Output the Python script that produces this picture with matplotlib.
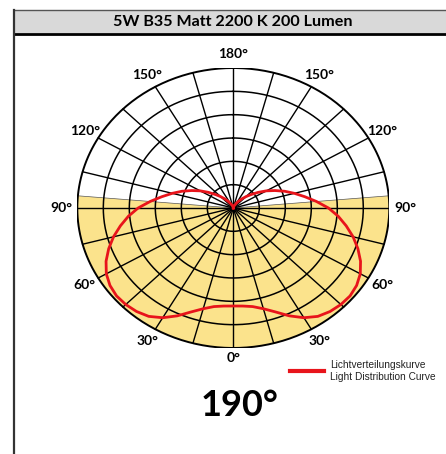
import numpy as np
import matplotlib
matplotlib.use("Agg")
import matplotlib.pyplot as plt

# Lichtverteilungskurve: angle from nadir (deg) -> relative intensity
curve_angles = [0, 5, 10, 15, 20, 25, 30, 35, 40, 45, 50, 55, 60, 65, 70, 75, 80, 85,
                90, 95, 100, 105, 110, 115, 120, 125, 130, 135, 140, 145, 150, 160, 170, 180]
curve_values = [0.70, 0.703, 0.715, 0.745, 0.79, 0.85, 0.905, 0.945, 0.965, 0.975, 0.977,
                0.965, 0.94, 0.90, 0.85, 0.795, 0.735, 0.675, 0.61, 0.535, 0.465, 0.405,
                0.35, 0.295, 0.245, 0.195, 0.15, 0.115, 0.085, 0.06, 0.04, 0.018, 0.005, 0.0]

beam_angle = 190
ring_count = 6
spoke_step = 15
angle_labels = [0, 30, 60, 90, 120, 150, 180]

title = "5W B35 Matt 2200 K 200 Lumen"
legend_de = "Lichtverteilungskurve"
legend_en = "Light Distribution Curve"

W, H = 446, 454
fig = plt.figure(figsize=(W / 100, H / 100), dpi=100)

# frame + title band (pixel coordinates)
frame = fig.add_axes([0, 0, 1, 1])
frame.set_xlim(0, W)
frame.set_ylim(H, 0)
frame.axis("off")
frame.fill_between([14, W + 5], 10, 33, color="#d9d9d9", lw=0)
frame.plot([14, W + 5], [10, 10], color="#555555", lw=1)
frame.plot([14, W + 5], [33.5, 33.5], color="black", lw=2)
frame.plot([14, 14], [10, H + 5], color="#333333", lw=1.6)
frame.text(233, 22, title, ha="center", va="center", fontsize=11.6,
           fontweight="bold", family="Lato")

# polar diagram, squashed to an ellipse
ax = fig.add_axes([77.3 / W, 1 - 348 / H, 312 / W, 280 / H])
ax.set_xlim(-1, 1)
ax.set_ylim(-1, 1)
ax.axis("off")


def xy(phi_deg, r):
    p = np.radians(phi_deg)
    return r * np.sin(p), -r * np.cos(p)


# beam area
half = beam_angle / 2
phi = np.linspace(-half, half, 200)
bx, by = xy(phi, 1.0)
ax.fill(np.r_[0, bx, 0], np.r_[0, by, 0], color="#fbe38c", lw=0, zorder=1)
for a in (-half, half):
    ex, ey = xy(a, 1.0)
    ax.plot([0, ex], [0, ey], color="#555555", lw=0.5, zorder=2)

# rings
full = np.linspace(-180, 180, 400)
for k in range(1, ring_count + 1):
    rx, ry = xy(full, k / ring_count)
    ax.plot(rx, ry, color="black", lw=1.1 if k < ring_count else 1.4, zorder=2)

# spokes
for a in np.arange(-180, 180, spoke_step):
    ex, ey = xy(a, 1.0)
    ax.plot([0, ex], [0, ey], color="black", lw=1.0, zorder=2)

# intensity curve, mirrored on both sides
ang = np.array(curve_angles, dtype=float)
val = np.array(curve_values)
phi_c = np.r_[-ang[::-1], ang[1:]]
r_c = np.r_[val[::-1], val[1:]]
cx, cy = xy(phi_c, r_c)
ax.plot(cx, cy, color="#e8141b", lw=2, zorder=3, solid_joinstyle="round")

# angle labels
for a in angle_labels:
    rr = 1.07 if a == 0 else 1.1
    sides = [a] if a in (0, 180) else [a, -a]
    for s in sides:
        lx, ly = xy(s, rr)
        ax.text(lx, ly, f"{a}°", ha="center", va="center", fontsize=10,
                fontweight="bold", family="Lato", clip_on=False)

# legend
frame.plot([290, 324], [370.7, 370.7], color="#e8141b", lw=3)
frame.text(330, 365.5, legend_de, ha="left", va="center", fontsize=7.3,
           family="Liberation Sans", color="#222222")
frame.text(330, 376.5, legend_en, ha="left", va="center", fontsize=7.3,
           family="Liberation Sans", color="#222222")

# beam angle
frame.text(240, 405, f"{beam_angle}°", ha="center", va="center", fontsize=26,
           fontweight="bold", family="Lato")

fig.savefig("out.png", dpi=100)
